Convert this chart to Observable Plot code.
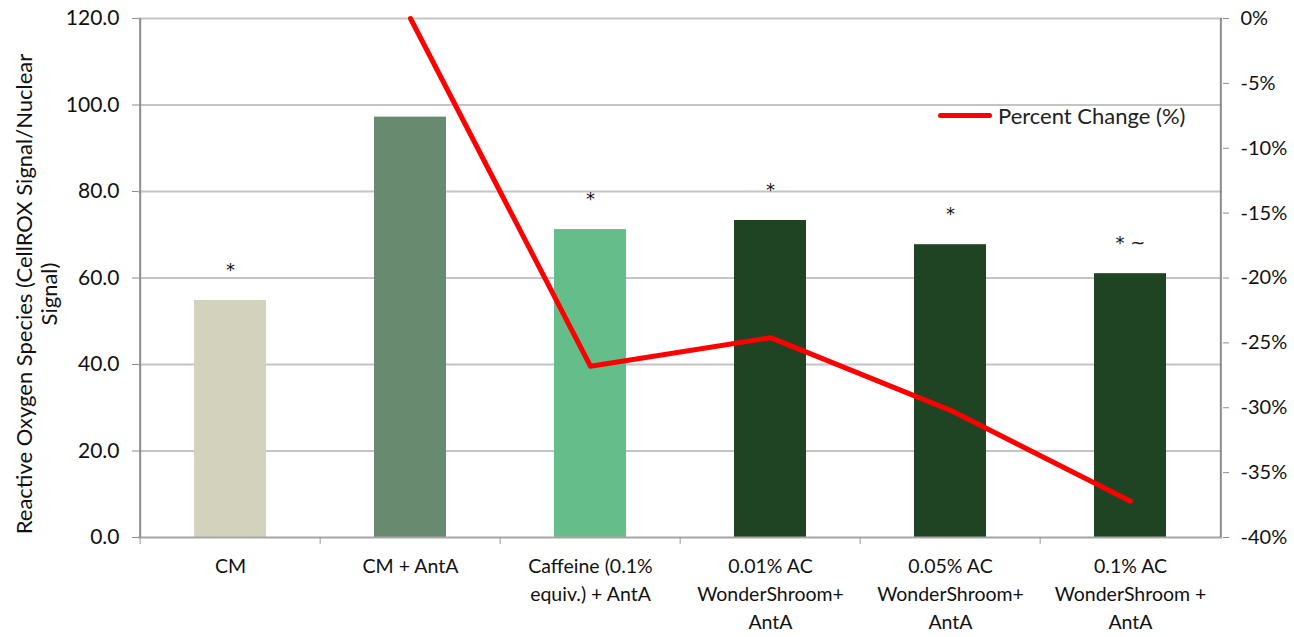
<!DOCTYPE html>
<html><head><meta charset="utf-8">
<script src="https://cdn.jsdelivr.net/npm/d3@7"></script>
<script src="https://cdn.jsdelivr.net/npm/@observablehq/plot@0.6"></script>
<style>
body{margin:0;background:#fff;font-family:Lato,"Noto Sans",sans-serif;}
#wrap{position:relative;width:1294px;height:637px;}
#legend{position:absolute;left:938px;top:102px;display:flex;align-items:center;font-size:22px;color:#222;}
#legend .sw{width:54px;height:5px;background:#ff0000;border-radius:3px;margin-right:6px;}
</style>
</head><body>
<div id="wrap"><div id="legend"><span class="sw"></span><span>Percent Change (%)</span></div></div>
<script>
const categories = ["CM","CM + AntA","Caffeine (0.1%\nequiv.) + AntA","0.01% AC\nWonderShroom+\nAntA","0.05% AC\nWonderShroom+\nAntA","0.1% AC\nWonderShroom +\nAntA"];
const rosValues = [54.8, 97.2, 71.2, 73.3, 67.7, 61.0];
const barColors = ["#d3d3bd","#688a6e","#64be8a","#1f4423","#1f4423","#1f4423"];
const significance = ["*","","*","*","*","* ~"];
const pctCategories = categories.slice(1);
const percentChange = [0, -26.8, -24.6, -30.2, -37.2];
const leftTicks = [0,20,40,60,80,100,120];
const rightTicks = [0,-5,-10,-15,-20,-25,-30,-35,-40];

const bars = categories.map((c,i)=>({cat:c, v:rosValues[i], color:barColors[i], sig:significance[i]}));
const pct = pctCategories.map((c,i)=>({cat:c, p:percentChange[i]}));
const pToY = p => (p + 40) * 3;   // map right axis (-40%..0%) onto left domain (0..120)
const step = (1294 - 138 - 72) / categories.length;

const chart = Plot.plot({
  width:1294, height:637,
  marginLeft:138, marginRight:72, marginTop:18, marginBottom:100,
  x:{domain:categories, paddingInner:0.6, paddingOuter:0.3, label:null},
  y:{domain:[0,120], label:null},
  color:{type:"identity"},
  style:{fontFamily:"Lato, 'Noto Sans', sans-serif", fontSize:"19px", color:"#111", background:"#fff"},
  marks:[
    Plot.gridY(leftTicks.slice(1), {stroke:"#c4c4c4", strokeOpacity:1, strokeWidth:2}),
    Plot.barY(bars, {x:"cat", y:"v", fill:"color"}),
    Plot.text(bars, {x:"cat", y:"v", text:"sig", dy:-30, fontSize:18, fontFamily:"DejaVu Sans", fill:"#111"}),
    Plot.ruleY([0], {stroke:"#a6a6a6", strokeWidth:2}),
    Plot.ruleX([categories[0]], {dx:-step/2, y1:0, y2:120, stroke:"#8c8c8c", strokeWidth:2}),
    Plot.ruleX([categories[categories.length-1]], {dx:step/2, y1:0, y2:120, stroke:"#8c8c8c", strokeWidth:2}),
    Plot.line(pct, {x:"cat", y:d=>pToY(d.p), stroke:"#ff0000", strokeWidth:5, strokeLinejoin:"round"}),
    Plot.axisY(leftTicks, {anchor:"left", tickFormat:d=>d.toFixed(1), tickSize:6, tickPadding:13, stroke:"#8c8c8c", fontSize:21, label:null}),
    Plot.axisY(rightTicks.map(pToY), {anchor:"right", tickFormat:v=>Math.round(v/3-40)+"%", tickSize:6, tickPadding:12, stroke:"#8c8c8c", fontSize:20, label:null}),
    Plot.axisX({tickSize:0, tickPadding:15, lineHeight:1.45, fontSize:19.5, label:null}),
    Plot.axisX({tickSize:7, tickFormat:()=>"", dx:-step/2, stroke:"#999", label:null}),
    Plot.text(["Reactive Oxygen Species (CellROX Signal/Nuclear\nSignal)"], {frameAnchor:"left", textAnchor:"middle", rotate:-90, dx:-102, dy:16, fontSize:22, lineHeight:1.15, fill:"#111"})
  ]
});
document.getElementById("wrap").prepend(chart);
</script>
</body></html>
